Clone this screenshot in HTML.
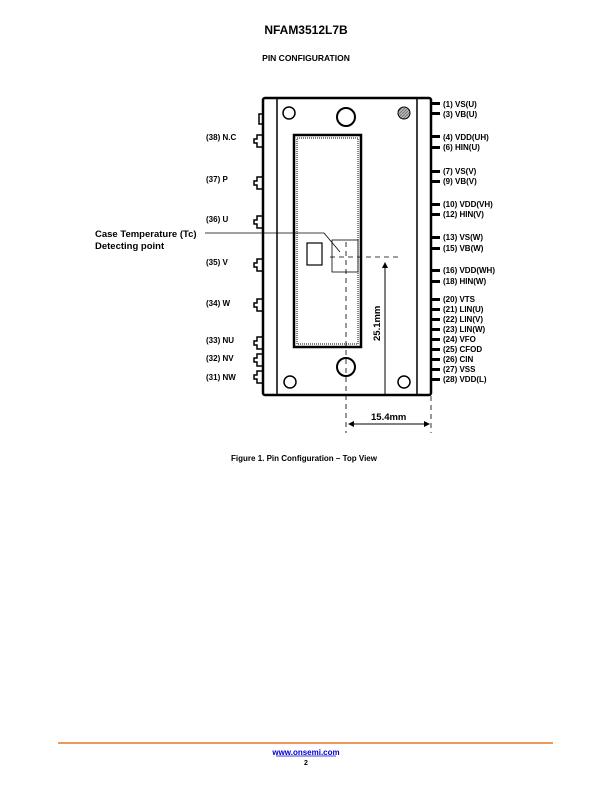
<!DOCTYPE html>
<html><head><style>
body{margin:0;width:612px;height:792px;background:#fff;position:relative;font-family:"Liberation Sans",Arial,sans-serif;color:#000}
.t{position:absolute;white-space:nowrap}
</style></head><body>
<div class="t" style="left:0;width:612px;text-align:center;top:23px;font-size:12px;font-weight:bold">NFAM3512L7B</div>
<div class="t" style="left:0;width:612px;text-align:center;top:53px;font-size:8.5px;font-weight:bold">PIN CONFIGURATION</div>
<svg width="612" height="792" style="position:absolute;left:0;top:0" font-family="Liberation Sans, Arial, sans-serif">
<defs>
<pattern id="h" width="3" height="3" patternUnits="userSpaceOnUse"><rect width="3" height="3" fill="#bbb"/><path d="M0 3L3 0" stroke="#666" stroke-width="0.8"/></pattern>
<marker id="a" markerWidth="6" markerHeight="6" refX="5" refY="3" orient="auto"><path d="M0 0L6 3L0 6z" fill="#000"/></marker>
</defs>
<g fill="none" stroke="#000">
<rect x="263" y="98" width="168" height="297" rx="2" stroke-width="2.5"/>
<line x1="277" y1="99" x2="277" y2="394" stroke-width="1.5"/>
<line x1="417" y1="99" x2="417" y2="394" stroke-width="1.5"/>
<rect x="294" y="135" width="67" height="212" stroke-width="2.5"/>
<rect x="297" y="138" width="61" height="206" stroke-width="1" stroke-dasharray="1 1"/>
<circle cx="289" cy="113" r="6" stroke-width="1.5"/>
<circle cx="346" cy="117" r="9" stroke-width="2"/>
<circle cx="404" cy="113" r="6" stroke-width="1" fill="url(#h)"/>
<circle cx="346" cy="367" r="9" stroke-width="2"/>
<circle cx="290" cy="382" r="6" stroke-width="1.5"/>
<circle cx="404" cy="382" r="6" stroke-width="1.5"/>
<rect x="307" y="243" width="15" height="22" stroke-width="1.2"/>
<rect x="332" y="240" width="26" height="32" stroke-width="0.8"/>
<polyline points="205,233 324,233 340,252" stroke-width="0.8"/>
<line x1="346" y1="242" x2="346" y2="433" stroke-width="0.8" stroke-dasharray="5 4"/>
<line x1="330" y1="257" x2="398" y2="257" stroke-width="0.8" stroke-dasharray="5 4"/>
<line x1="431" y1="396" x2="431" y2="433" stroke-width="0.8" stroke-dasharray="5 4"/>
<line x1="385" y1="394" x2="385" y2="263" stroke-width="1" marker-end="url(#a)"/>
<line x1="360" y1="424" x2="429" y2="424" stroke-width="1" marker-end="url(#a)"/>
<line x1="360" y1="424" x2="349" y2="424" stroke-width="1" marker-end="url(#a)"/>
</g>
<g fill="none" stroke="#000" stroke-width="1.5">
<path d="M263 114h-4v10h4"/>
<path d="M263 135h-6v4h-3v4h3v4h6"/>
<path d="M263 177h-6v4h-3v4h3v4h6"/>
<path d="M263 216h-6v4h-3v4h3v4h6"/>
<path d="M263 259h-6v4h-3v4h3v4h6"/>
<path d="M263 299h-6v4h-3v4h3v4h6"/>
<path d="M263 337h-6v4h-3v4h3v4h6"/>
<path d="M263 354h-6v4h-3v4h3v4h6"/>
<path d="M263 371h-6v4h-3v4h3v4h6"/>
</g>
<g fill="#000">
<rect x="431" y="102" width="9" height="3"/><rect x="431" y="112" width="9" height="3"/>
<rect x="431" y="135" width="9" height="3"/><rect x="431" y="146" width="9" height="3"/>
<rect x="431" y="170" width="9" height="3"/><rect x="431" y="180" width="9" height="3"/>
<rect x="431" y="203" width="9" height="3"/><rect x="431" y="213" width="9" height="3"/>
<rect x="431" y="236" width="9" height="3"/><rect x="431" y="247" width="9" height="3"/>
<rect x="431" y="269" width="9" height="3"/><rect x="431" y="280" width="9" height="3"/>
<rect x="431" y="298" width="9" height="3"/><rect x="431" y="308" width="9" height="3"/>
<rect x="431" y="318" width="9" height="3"/><rect x="431" y="328" width="9" height="3"/>
<rect x="431" y="338" width="9" height="3"/><rect x="431" y="348" width="9" height="3"/>
<rect x="431" y="358" width="9" height="3"/><rect x="431" y="368" width="9" height="3"/>
<rect x="431" y="378" width="9" height="3"/>
</g>
<g font-size="8" font-weight="bold" fill="#000">
<text x="206" y="140">(38) N.C</text>
<text x="206" y="182">(37) P</text>
<text x="206" y="222">(36) U</text>
<text x="206" y="265">(35) V</text>
<text x="206" y="306">(34) W</text>
<text x="206" y="343">(33) NU</text>
<text x="206" y="361">(32) NV</text>
<text x="206" y="380">(31) NW</text>
<g transform="translate(-11,0)">
<text x="454" y="107">(1) VS(U)</text>
<text x="454" y="117">(3) VB(U)</text>
<text x="454" y="140">(4) VDD(UH)</text>
<text x="454" y="150">(6) HIN(U)</text>
<text x="454" y="174">(7) VS(V)</text>
<text x="454" y="184">(9) VB(V)</text>
<text x="454" y="207">(10) VDD(VH)</text>
<text x="454" y="217">(12) HIN(V)</text>
<text x="454" y="240">(13) VS(W)</text>
<text x="454" y="251">(15) VB(W)</text>
<text x="454" y="273">(16) VDD(WH)</text>
<text x="454" y="284">(18) HIN(W)</text>
<text x="454" y="302">(20) VTS</text>
<text x="454" y="312">(21) LIN(U)</text>
<text x="454" y="322">(22) LIN(V)</text>
<text x="454" y="332">(23) LIN(W)</text>
<text x="454" y="342">(24) VFO</text>
<text x="454" y="352">(25) CFOD</text>
<text x="454" y="362">(26) CIN</text>
<text x="454" y="372">(27) VSS</text>
<text x="454" y="382">(28) VDD(L)</text>
</g>
<text x="95" y="237" font-size="9.5">Case Temperature (Tc)</text>
<text x="95" y="249" font-size="9.5">Detecting point</text>
<text x="371" y="420" font-size="9.5">15.4mm</text>
<text transform="translate(380,341) rotate(-90)" font-size="9.5">25.1mm</text>
<text x="304" y="461" font-size="8" text-anchor="middle">Figure 1. Pin Configuration – Top View</text>
</g>
<line x1="58" y1="743" x2="553" y2="743" stroke="#e87722" stroke-width="1.5"/>
<text x="306" y="755" font-size="8" font-weight="bold" fill="#0000cc" text-anchor="middle">www.onsemi.com</text>
<line x1="276" y1="756" x2="336" y2="756" stroke="#0000cc" stroke-width="0.7"/>
<text x="306" y="765" font-size="7" font-weight="bold" text-anchor="middle">2</text>
</svg>
</body></html>
